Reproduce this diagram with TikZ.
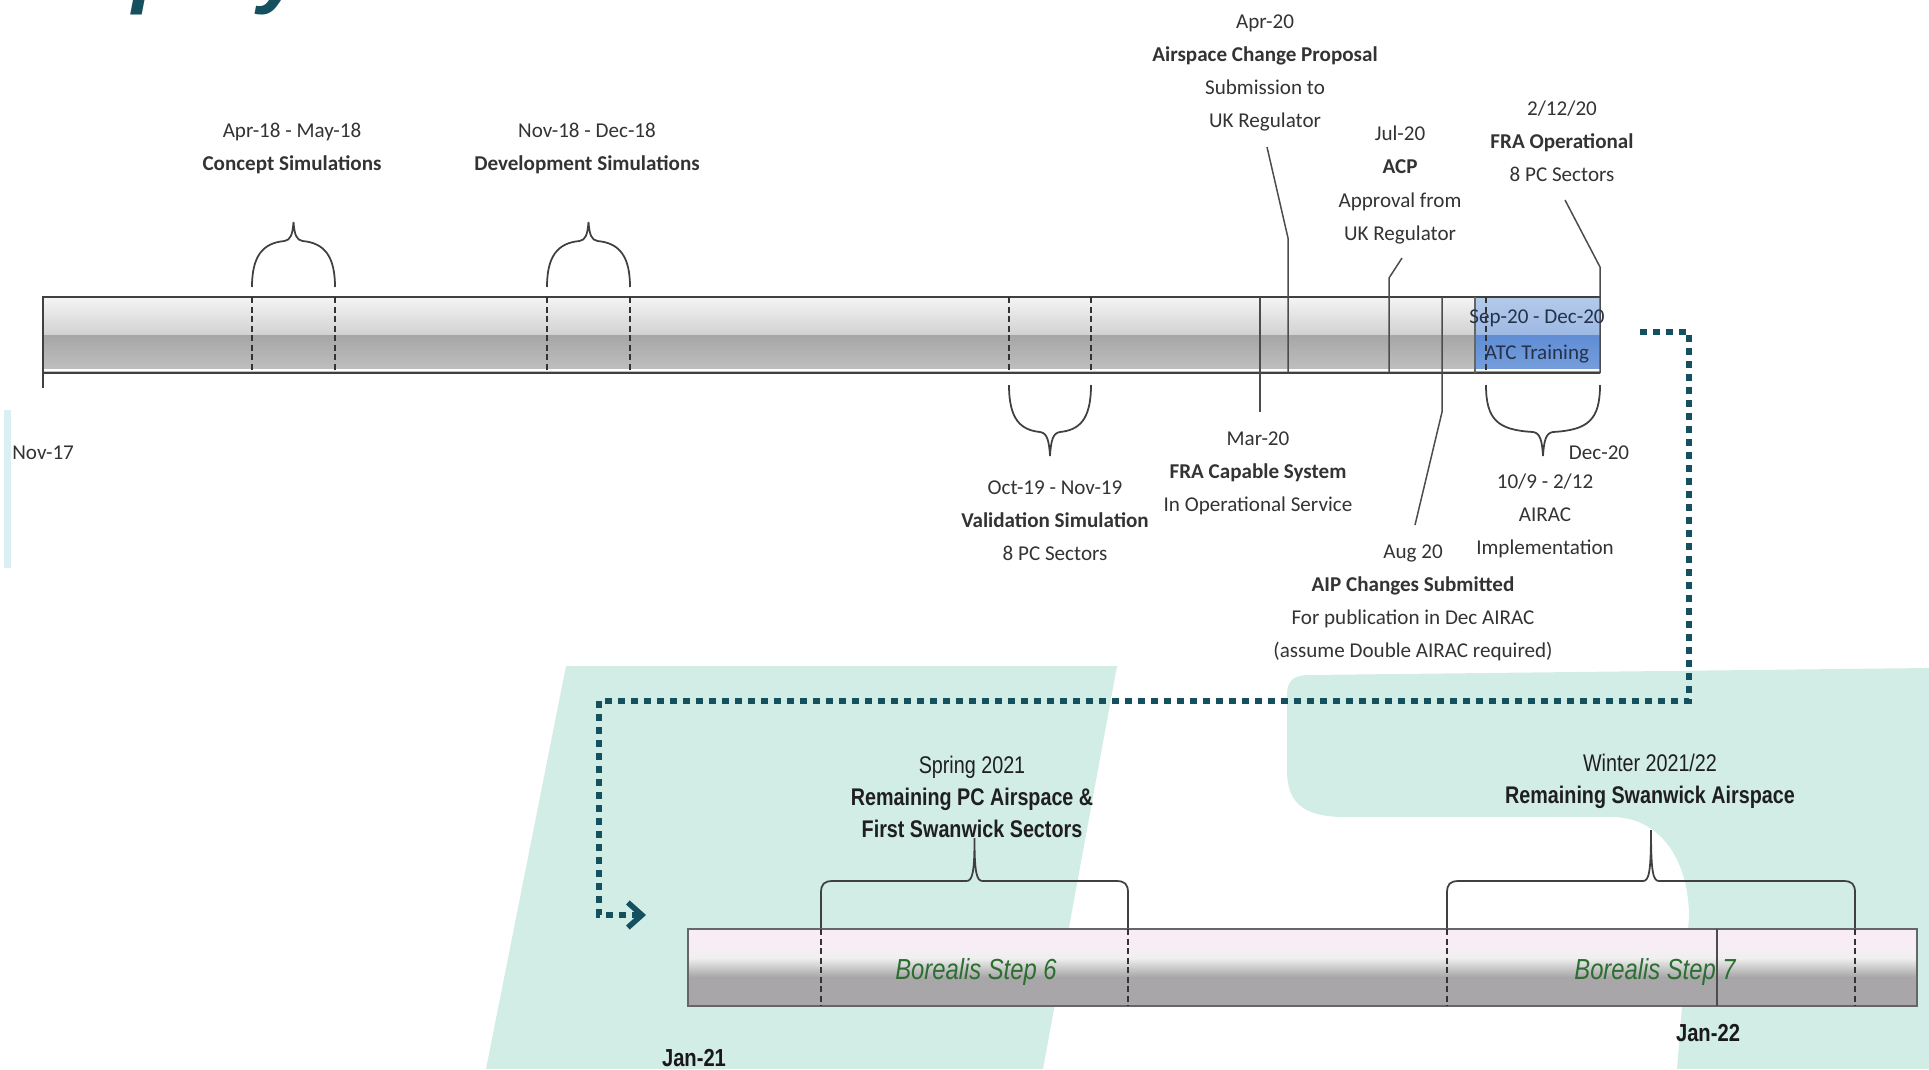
\documentclass[tikz,border=0pt]{standalone}
\usepackage{fontspec}
\setmainfont{Carlito}
\newfontfamily\condfont[FakeStretch=0.82]{Liberation Sans}
\newfontfamily\titlefont{Liberation Sans}
\usetikzlibrary{arrows.meta}

\definecolor{mint}{HTML}{D2ECE6}
\definecolor{stripblue}{HTML}{DAEFF4}
\definecolor{dotteal}{HTML}{15505F}
\definecolor{stepgreen}{HTML}{2B6E30}
\definecolor{labelgray}{HTML}{333333}
\definecolor{atcnavy}{HTML}{25324C}
\definecolor{atclight}{HTML}{B4CAEA}
\definecolor{atcmid}{HTML}{9DB9E3}
\definecolor{atcdark}{HTML}{5F8DD4}
\definecolor{atcbase}{HTML}{78A0DC}
\definecolor{lowpink}{HTML}{F8EDF5}
\definecolor{lowgray}{HTML}{A8A6A8}

\tikzset{
  lbl/.style={align=center, inner sep=0pt, text=labelgray,
    font=\fontsize{12}{18.8}\selectfont},
  lowlbl/.style={align=center, inner sep=0pt, text=black!88,
    font=\condfont\fontsize{13.7}{18.2}\selectfont},
  stepname/.style={inner sep=0pt, text=stepgreen,
    font=\condfont\itshape\fontsize{16.5}{18}\selectfont},
  monthlbl/.style={inner sep=0pt, text=black!90,
    font=\condfont\bfseries\fontsize{14}{16}\selectfont},
  leader/.style={draw=black!70, line width=0.3mm},
  brc/.style={draw=black!75, line width=0.35mm},
  rangeline/.style={draw=black!80, line width=0.25mm, dash pattern=on 1.2mm off 0.7mm},
  dotline/.style={draw=dotteal, line width=1.1mm, line cap=butt,
    dash pattern=on 1.4mm off 1.2mm},
}

\begin{document}
\begin{tikzpicture}[x=0.2mm, y=-0.2mm]
\useasboundingbox (0,0) rectangle (1929,1069);

% background shapes
\fill[stripblue] (4,410) rectangle (11,568);
\fill[mint] (566,666) -- (1117,666) -- (1043,1069) -- (486,1069) -- cycle;
\fill[mint] (1287,695) .. controls (1287,680) and (1294,675) .. (1310,675)
  -- (1929,668) -- (1929,1069) -- (1677,1069) -- (1689,917)
  .. controls (1689,860) and (1660,817) .. (1612,817) -- (1345,817)
  .. controls (1300,817) and (1287,800) .. (1287,770) -- cycle;

% title, cut by the top edge
\node[anchor=base west, inner sep=0pt, text=dotteal,
  font=\titlefont\bfseries\itshape\fontsize{48}{52}\selectfont] (title) at (24,-3) {Deployment Timeline};

% upper time bar
\shade[top color=black!4, bottom color=black!18] (43,297) rectangle (1600,335);
\shade[top color=black!35, bottom color=black!24] (43,335) rectangle (1600,373);
\shade[top color=atclight, bottom color=atcmid] (1475,297) rectangle (1600,335);
\shade[top color=atcdark, bottom color=atcbase] (1475,335) rectangle (1600,373);
\draw[white, line width=0.35mm] (43,370) -- (1600,370);
\draw[black!75, line width=0.3mm] (43,388) -- (43,297) -- (1600,297);
\draw[black!75, line width=0.3mm] (43,373) -- (1600,373);
\draw[black!60, line width=0.25mm] (1475,297) -- (1475,373);
\foreach \x in {252,335,547,630,1009,1091,1486}
  \draw[rangeline] (\x,297) -- (\x,373);

% braces over and under the bar
\foreach \a/\b in {252/335,547/630}{
  \pgfmathsetmacro\m{(\a+\b)/2}
  \draw[brc] (\a,287) .. controls (\a,257) and (\a+10,243) .. (\m-9,241)
    .. controls (\m-3,240) and (\m-1,235) .. (\m,222)
    .. controls (\m+1,235) and (\m+3,240) .. (\m+9,241)
    .. controls (\b-10,243) and (\b,257) .. (\b,287);
}
\foreach \a/\b in {1009/1091,1486/1600}{
  \pgfmathsetmacro\m{(\a+\b)/2}
  \draw[brc] (\a,385) .. controls (\a,420) and (\a+12,430) .. (\m-10,432)
    .. controls (\m-3,433) and (\m-1,440) .. (\m,456)
    .. controls (\m+1,440) and (\m+3,433) .. (\m+10,432)
    .. controls (\b-12,430) and (\b,420) .. (\b,385);
}

% milestone leaders
\coordinate (marfoot) at (1260,297);
\coordinate (marend) at (1260,412);
\coordinate (aprfoot) at (1288,373);
\coordinate (aprbend) at (1288,238);
\coordinate (aprend) at (1267,147);
\coordinate (julfoot) at (1389,373);
\coordinate (julbend) at (1389,278);
\coordinate (julend) at (1402,258);
\coordinate (augfoot) at (1442,297);
\coordinate (augbend) at (1442,412);
\coordinate (augend) at (1415,525);
\coordinate (frafoot) at (1600,373);
\coordinate (frabend) at (1600,267);
\coordinate (fraend) at (1565,200);
\draw[leader] (marfoot) -- (marend);
\draw[leader] (aprfoot) -- (aprbend) -- (aprend);
\draw[leader] (julfoot) -- (julbend) -- (julend);
\draw[leader] (augfoot) -- (augbend) -- (augend);
\draw[leader] (frafoot) -- (frabend) -- (fraend);

% upper labels
\node[lbl] (concept) at (292,148) {Apr-18 - May-18\\\textbf{Concept Simulations}};
\node[lbl] (devsim) at (587,148) {Nov-18 - Dec-18\\\textbf{Development Simulations}};
\node[lbl] (acpsub) at (1265,73) {Apr-20\\\textbf{Airspace Change Proposal}\\Submission to\\UK Regulator};
\node[lbl] (acpok) at (1400,185) {Jul-20\\\textbf{ACP}\\Approval from\\UK Regulator};
\node[lbl] (fraop) at (1562,141) {2/12/20\\\textbf{FRA Operational}\\8 PC Sectors};
\node[lbl, text=atcnavy] (atcdate) at (1537,318) {Sep-20 - Dec-20};
\node[lbl, text=atcnavy] (atc) at (1537,354) {ATC Training};
\node[lbl, anchor=west] (nov17) at (12,453) {Nov-17};
\node[lbl] (valsim) at (1055,521) {Oct-19 - Nov-19\\\textbf{Validation Simulation}\\8 PC Sectors};
\node[lbl] (fracap) at (1258,473) {Mar-20\\\textbf{FRA Capable System}\\In Operational Service};
\node[lbl] (aip) at (1413,603) {Aug 20\\\textbf{AIP Changes Submitted}\\For publication in Dec AIRAC\\(assume Double AIRAC required)};
\node[lbl] (dec20) at (1599,453) {Dec-20};
\node[lbl] (airac) at (1545,516) {10/9 - 2/12\\AIRAC\\Implementation};

% lower time bar
\fill[lowpink] (688,929) rectangle (1917,945);
\shade[top color=lowpink, bottom color=black!6] (688,945) rectangle (1917,958);
\shade[top color=black!6, bottom color=lowgray] (688,958) rectangle (1917,977);
\fill[lowgray] (688,977) rectangle (1917,1006);
\draw[black!60, line width=0.45mm] (688,929) rectangle (1917,1006);
\foreach \x in {821,1128,1447,1855}
  \draw[rangeline] (\x,929) -- (\x,1006);
\draw[leader] (1717,929) -- (1717,1006);

\foreach \a/\b/\t in {821/1128/838,1447/1855/830}{
  \pgfmathsetmacro\m{(\a+\b)/2}
  \draw[brc] (\a,928) -- (\a,893) .. controls (\a,884) and (\a+3,881) .. (\a+12,881) -- (\m-8,881)
    .. controls (\m-2,881) and (\m,872) .. (\m,\t)
    .. controls (\m,872) and (\m+2,881) .. (\m+8,881) -- (\b-12,881)
    .. controls (\b-3,881) and (\b,884) .. (\b,893) -- (\b,928);
}

% lower labels
\node[lowlbl] (spring) at (972,797) {Spring 2021\\\textbf{Remaining PC Airspace \&}\\\textbf{First Swanwick Sectors}};
\node[lowlbl] (winter) at (1650,781) {Winter 2021/22\\\textbf{Remaining Swanwick Airspace}};
\node[stepname] (step6) at (976,972) {Borealis Step 6};
\node[stepname] (step7) at (1655,972) {Borealis Step 7};
\node[monthlbl] (jan21) at (694,1058) {Jan-21};
\node[monthlbl] (jan22) at (1708,1033) {Jan-22};

% dotted link from the upper bar to the lower bar
\coordinate (dotstart) at (1640,332);
\coordinate (dotend) at (646,915);
\draw[dotline, -{Straight Barb[length=2.8mm, width=5mm]}]
  (dotstart) -| (1689,701) -| (599,915) -- (dotend);
\end{tikzpicture}
\end{document}
